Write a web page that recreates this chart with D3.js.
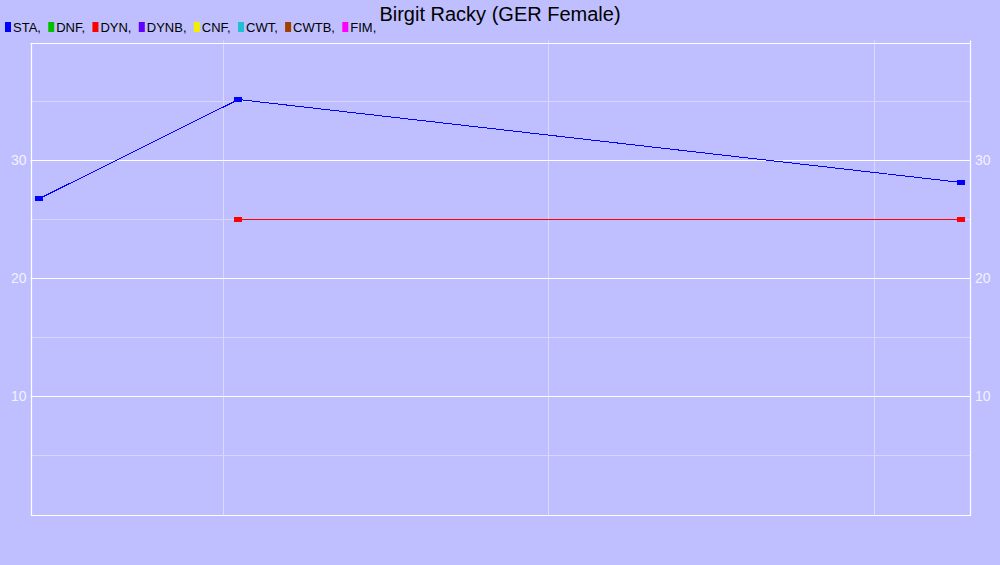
<!DOCTYPE html>
<html>
<head>
<meta charset="utf-8">
<script src="https://cdn.jsdelivr.net/npm/d3@7"></script>
<style>
  body { margin: 0; background: #bfbfff; }
  svg { display: block; font-family: Arial, "Liberation Sans", sans-serif; }
</style>
</head>
<body>
<script>
// legend disciplines and colours
const disciplines = ["STA", "DNF", "DYN", "DYNB", "CNF", "CWT", "CWTB", "FIM"];
const colors = ["#0000ff", "#00c000", "#ff0000", "#6000ff", "#f0f000", "#20c0d0", "#a04000", "#ff00ff"];

// results (date, value)
const staDates = ["2009-06-08", "2010-01-18", "2012-04-08"];
const staValues = [26.8, 35.2, 28.2];
const dynDates = ["2010-01-18", "2012-04-08"];
const dynValues = [25, 25];

const yTicks = [10, 20, 30];
const yMinor = [5, 15, 25, 35];

const width = 1000, height = 565;
const margin = { top: 42.5, right: 30, bottom: 51, left: 30.5 };

const svg = d3.select("body").append("svg")
  .attr("width", width)
  .attr("height", height);

svg.append("rect").attr("width", width).attr("height", height).attr("fill", "#bfbfff");

const x = d3.scaleUtc()
  .domain([new Date("2009-05-30"), new Date("2012-04-18")])
  .range([margin.left, width - margin.right]);

const y = d3.scaleLinear()
  .domain([0, 40])
  .range([height - margin.bottom, margin.top]);

const px = v => Math.round(v) + 0.5;
const grid = svg.append("g");

// vertical (yearly) grid lines
grid.selectAll("line.v")
  .data(x.ticks(d3.utcYear.every(1)))
  .join("line")
  .attr("class", "v")
  .attr("x1", d => px(x(d)))
  .attr("x2", d => px(x(d)))
  .attr("y1", margin.top - 2)
  .attr("y2", y(0) + 2)
  .attr("stroke", "#dadaff");

// minor horizontal lines
grid.selectAll("line.minor")
  .data(yMinor)
  .join("line")
  .attr("class", "minor")
  .attr("x1", x.range()[0])
  .attr("x2", x.range()[1])
  .attr("y1", d => px(y(d)))
  .attr("y2", d => px(y(d)))
  .attr("stroke", "#d6d6ff");

// major horizontal lines
grid.selectAll("line.major")
  .data(yTicks.concat([40]))
  .join("line")
  .attr("class", "major")
  .attr("x1", x.range()[0])
  .attr("x2", x.range()[1])
  .attr("y1", d => px(y(d)))
  .attr("y2", d => px(y(d)))
  .attr("stroke", "#ffffff");

// frame: left, right, bottom
const x0 = px(x.range()[0]), x1 = px(x.range()[1]);
const yb = Math.round(y(0)) + 1.5, yt = px(y(40));
svg.append("path")
  .attr("d", `M${x0},${yt}V${yb}H${x1}V${yt - 3}`)
  .attr("fill", "none")
  .attr("stroke", "#ffffff")
  .attr("stroke-width", 1.2);

// tick labels both sides
const axisL = d3.axisLeft(y).tickValues(yTicks).tickSize(0).tickPadding(4);
const axisR = d3.axisRight(y).tickValues(yTicks).tickSize(0).tickPadding(5);
[[axisL, x.range()[0]], [axisR, x.range()[1]]].forEach(([ax, tx]) => {
  const g = svg.append("g").attr("transform", `translate(${tx},0)`).call(ax);
  g.select(".domain").remove();
  g.selectAll("text")
    .attr("fill", "#f2f2ff")
    .style("font-size", "14px")
    .style("font-family", "Arial, 'Liberation Sans', sans-serif");
});

const parse = d3.utcParse("%Y-%m-%d");
const series = [
  { name: "STA", color: colors[0], pts: staDates.map((d, i) => [parse(d), staValues[i]]) },
  { name: "DYN", color: colors[2], pts: dynDates.map((d, i) => [parse(d), dynValues[i]]) }
];

const line = d3.line().x(d => px(x(d[0]))).y(d => px(y(d[1])));

series.forEach(s => {
  svg.append("path")
    .attr("d", line(s.pts))
    .attr("fill", "none")
    .attr("stroke", s.color)
    .attr("stroke-width", 1)
    .attr("shape-rendering", "crispEdges");
  svg.selectAll(null)
    .data(s.pts)
    .join("rect")
    .attr("x", d => Math.round(x(d[0])) - 4)
    .attr("y", d => Math.round(y(d[1])) - 2)
    .attr("width", 8)
    .attr("height", 5)
    .attr("fill", s.color);
});

// title
svg.append("text")
  .attr("x", width / 2)
  .attr("y", 20.5)
  .attr("text-anchor", "middle")
  .style("font-size", "20px")
  .attr("fill", "#000")
  .text("Birgit Racky (GER Female)");

// legend
let lx = 5;
disciplines.forEach((name, i) => {
  svg.append("rect")
    .attr("x", lx).attr("y", 22)
    .attr("width", 6).attr("height", 10)
    .attr("fill", colors[i]);
  const t = svg.append("text")
    .attr("x", lx + 8)
    .attr("y", 32)
    .style("font-size", "13px")
    .attr("fill", "#000")
    .text(name + ",");
  lx += 8 + t.node().getComputedTextLength() + 7.3;
});
</script>
</body>
</html>
